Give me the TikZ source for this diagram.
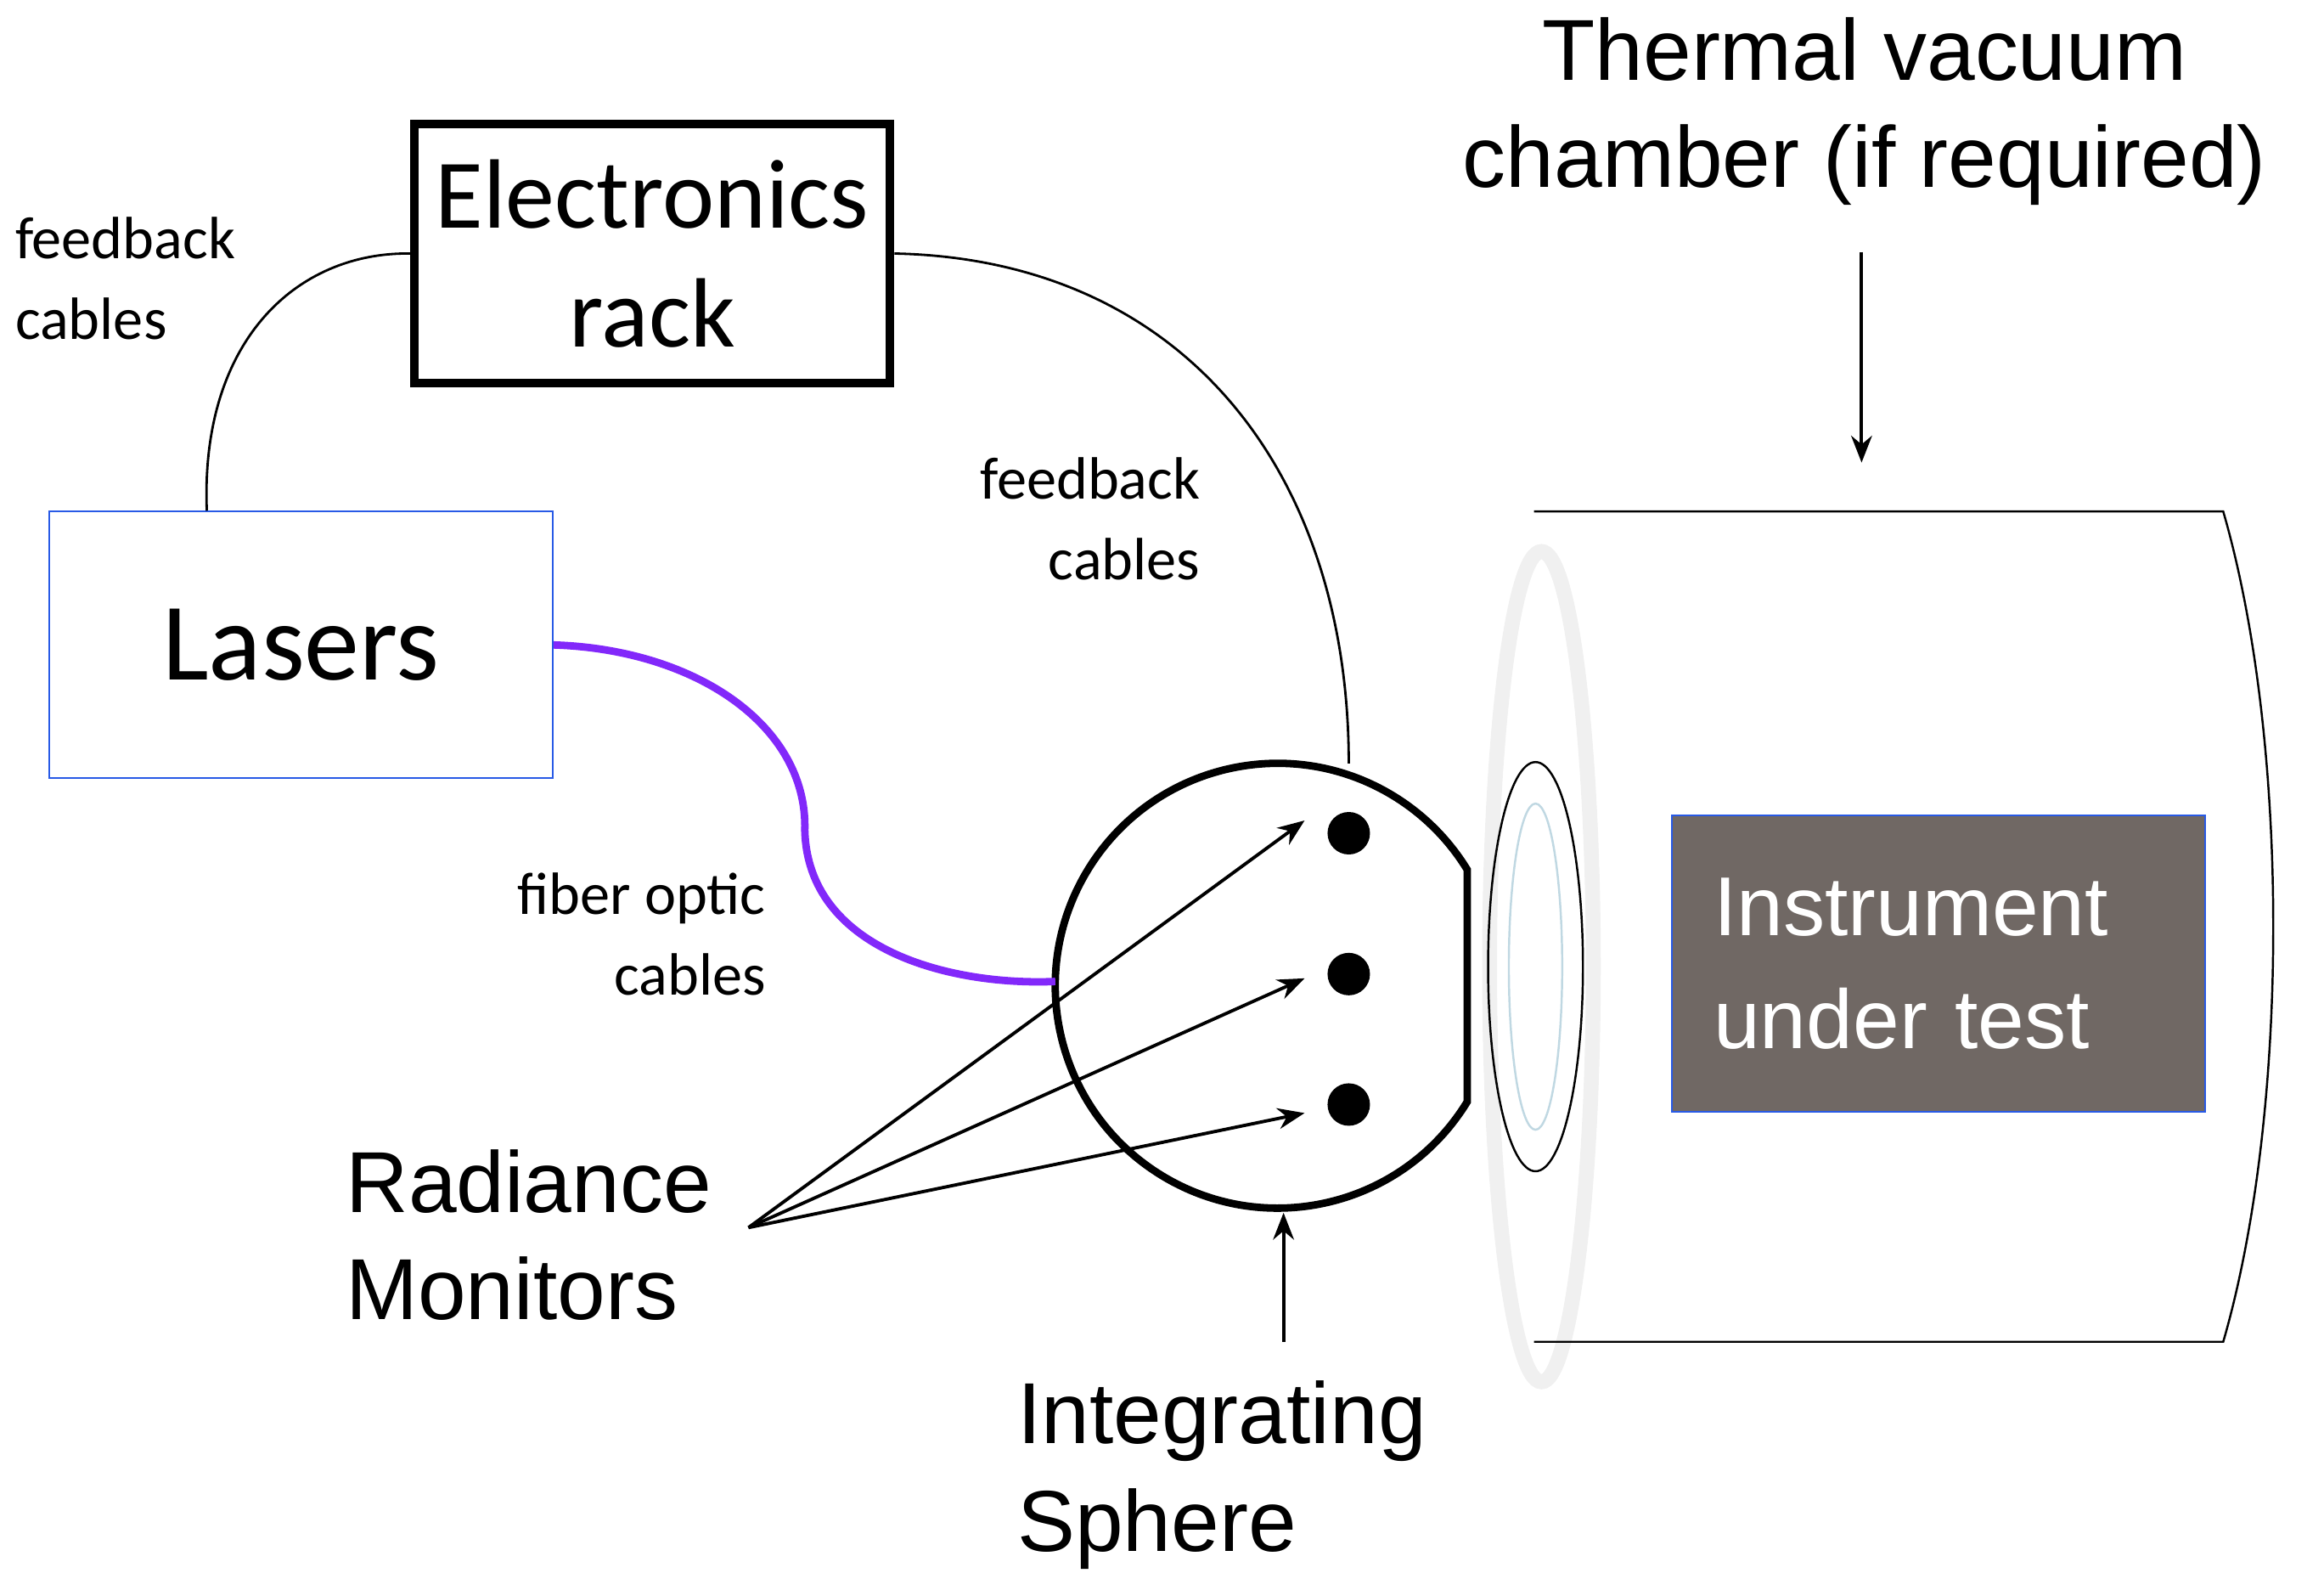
\documentclass[tikz,border=0pt]{standalone}
\usepackage{fontspec}
\setmainfont{Liberation Sans}
\newfontfamily\calfont{Carlito}
\usetikzlibrary{arrows.meta, positioning, shapes.geometric}
\definecolor{fiberviolet}{RGB}{130,40,250}
\definecolor{instgray}{RGB}{112,104,100}
\definecolor{laserblue}{RGB}{40,90,230}
\begin{document}
\begin{tikzpicture}[
            x=0.01745cm, y=-0.01745cm,
            cable/.style={thin, black, line width=0.8pt},
            arrow1/.style={-{Stealth[length=9pt, width=7pt]}, line width=1.1pt},
            smalllabel/.style={font=\calfont\fontsize{20}{27}\selectfont, inner sep=0pt},
            biglabel/.style={font=\fontsize{29}{36}\selectfont, inner sep=0pt},
            monitor/.style={circle, fill=black, minimum size=0.5cm, inner sep=0pt},
        ]
            \useasboundingbox (0,0) rectangle (1568,1072);

            % Boxes
            \node[draw, line width=3pt, minimum width=5.6cm, minimum height=3.05cm, align=center,
                  font=\calfont\fontsize{33}{40}\selectfont] (rack) at (440,171) {Electronics\\rack};
            \node[draw=laserblue, line width=0.6pt, minimum width=5.93cm, minimum height=3.14cm,
                  font=\calfont\fontsize{37}{44}\selectfont] (lasers) at (203,435) {Lasers};

            % Chamber
            \draw[gray!12, line width=5pt] (1040,652) ellipse (35 and 280);
            \draw[line width=0.7pt] (1035,345) -- (1500,345) .. controls (1545,500) and (1545,750) .. (1500,905) -- (1035,905);
            \draw[line width=0.7pt] (1036,652) ellipse (32 and 138);
            \draw[cyan!40!gray!40, line width=0.7pt] (1036,652) ellipse (18 and 110);
            \node[fill=instgray, draw=laserblue, line width=0.6pt, minimum width=6.28cm, minimum height=3.49cm,
                  text width=5.3cm, align=left, text=white, font=\fontsize{28}{38}\selectfont] (instrument) at (1308,650) {Instrument\\under test};

            % Sphere
            \draw[line width=2.5pt] (990,743) arc[start angle=-31.4, end angle=-328.6, x radius=150, y radius=-150] -- cycle;
            \node[monitor] (mon1) at (910,562) {};
            \node[monitor] (mon2) at (910,657) {};
            \node[monitor] (mon3) at (910,745) {};
            \coordinate (sphIn) at (712,662);
            \coordinate (sphBot) at (866,818);
            \coordinate (sphTop) at (910,515);

            % Labels
            \node[biglabel, align=center] (thermal) at (1258,75) {Thermal vacuum\\chamber (if required)};
            \node[biglabel, align=left, anchor=west] (radiance) at (233,833) {Radiance\\Monitors};
            \node[biglabel, align=left, anchor=west] (sphere) at (686,995) {Integrating\\Sphere};
            \node[smalllabel, align=left, anchor=west] (fbLeft) at (10,188) {feedback\\cables};
            \node[smalllabel, align=right, anchor=east] (fbRight) at (810,350) {feedback\\cables};
            \node[smalllabel, align=right, anchor=east] (fiber) at (517,630) {fiber optic\\cables};
            \coordinate (radTip) at (505,828);
            \coordinate (thermTip) at (1256,312);
            \coordinate (sphereTail) at (866,905);

            % Cables
            \draw[cable] (lasers.north west) ++(107,0) coordinate (lasTop)
                  (lasTop) .. controls (135,230) and (200,170) .. (rack.west);
            \draw[cable] (rack.east) .. controls (800,175) and (910,320) .. (sphTop);
            \draw[fiberviolet, line width=2.5pt] (lasers.east) .. controls (470,438) and (545,490) .. (543,560)
                  .. controls (545,640) and (640,665) .. (sphIn);

            % Arrows
            \draw[arrow1] (radTip) -- ([xshift=-0.52cm, yshift=0.15cm] mon1.center);
            \draw[arrow1] (radTip) -- ([xshift=-0.52cm, yshift=-0.05cm] mon2.center);
            \draw[arrow1] (radTip) -- ([xshift=-0.52cm, yshift=-0.1cm] mon3.center);
            \draw[arrow1] (sphereTail) -- (sphBot);
            \draw[arrow1] (1256,170) -- (thermTip);
\end{tikzpicture}
\end{document}
